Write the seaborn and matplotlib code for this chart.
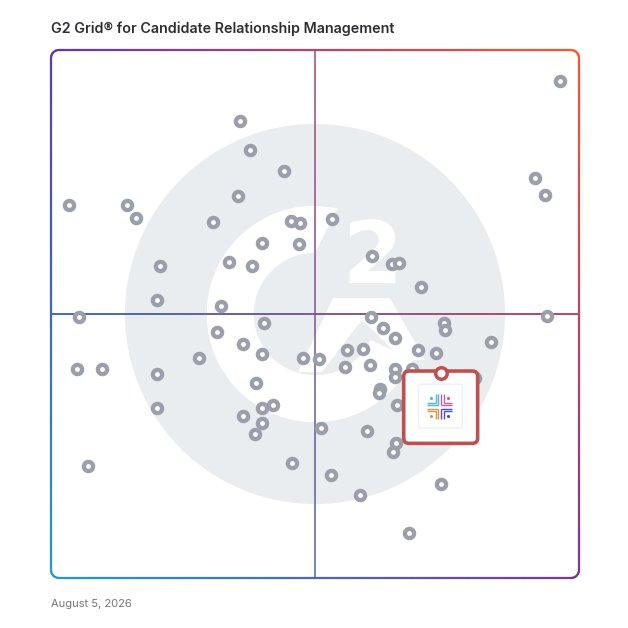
import numpy as np
import pandas as pd
import matplotlib.pyplot as plt
import seaborn as sns
from matplotlib.collections import LineCollection
from matplotlib.patches import Circle, Wedge, Polygon, FancyBboxPatch
from matplotlib.colors import to_rgb

# === Data: satisfaction (x) and market presence (y), 0-100, midlines at 50 ===
satisfaction = [96.4, 35.8, 37.7, 44.1, 91.7, 93.6, 3.4, 14.4, 16.1, 35.4,
                30.7, 45.5, 47.2, 53.2, 40.0, 47.0, 60.8, 64.6, 65.9, 33.7,
                38.1, 20.6, 70.1, 20.1, 32.2, 5.3, 93.9, 40.3, 60.6, 74.4,
                74.6, 62.9, 65.2, 31.4, 83.3, 36.4, 56.1, 59.1, 40.0, 47.7,
                50.8, 28.0, 69.5, 72.9, 55.7, 60.4, 65.2, 68.4, 65.2, 80.3,
                20.1, 38.8, 62.3, 62.1, 20.1, 40.0, 42.0, 65.5, 36.4, 40.0,
                38.6, 51.1, 59.8, 65.3, 64.8, 45.6, 53.0, 73.9, 4.9, 9.7,
                7.0, 58.5, 67.8]
market_presence = [94.1, 86.6, 81.1, 77.1, 75.8, 72.5, 70.6, 70.6, 68.2, 72.3,
                   67.4, 67.6, 67.2, 68.0, 63.4, 63.3, 61.0, 59.5, 59.7, 59.8,
                   59.1, 59.1, 55.1, 52.7, 51.5, 49.4, 49.6, 48.3, 49.4, 48.3,
                   47.0, 47.3, 45.5, 46.6, 44.7, 44.3, 43.2, 43.4, 42.4, 41.7,
                   41.5, 41.7, 43.2, 42.6, 40.0, 40.3, 39.6, 39.6, 38.1, 37.9,
                   38.6, 36.9, 35.8, 35.0, 32.2, 32.2, 32.8, 32.8, 30.7, 29.4,
                   27.3, 28.4, 27.8, 25.6, 23.9, 21.8, 19.5, 17.8, 39.6, 39.6,
                   21.2, 15.7, 8.5]

# highlighted product
product_x = 73.9
product_y = 38.8

TITLE = "G2 Grid\u00ae for Candidate Relationship Management"
DATE_LABEL = "August 5, 2026"

# frame gradient corner colours
C_TL, C_TR = "#5b3aa8", "#ff5530"
C_BL, C_BR = "#1f9ad8", "#7b3596"

MARKER_GRAY = "#9a9fab"
HIGHLIGHT_RED = "#c0504f"
LOGO_GRAY = "#eaedf0"

PX = 100 / 528  # one pixel in data units


def grad_color(x, y):
    u, v = np.clip(x / 100, 0, 1), np.clip(y / 100, 0, 1)
    tl, tr, bl, br = (np.array(to_rgb(c)) for c in (C_TL, C_TR, C_BL, C_BR))
    return (1 - u) * (1 - v) * bl + u * (1 - v) * br + (1 - u) * v * tl + u * v * tr


def gradient_line(ax, pts, lw, alpha=1.0, zorder=2):
    # resample so the colour changes smoothly
    d = np.r_[0, np.cumsum(np.hypot(*np.diff(pts, axis=0).T))]
    s = np.linspace(0, d[-1], 900)
    p = np.column_stack([np.interp(s, d, pts[:, 0]), np.interp(s, d, pts[:, 1])])
    segs = np.stack([p[:-1], p[1:]], axis=1)
    mids = segs.mean(axis=1)
    cols = [(*grad_color(mx, my), alpha) for mx, my in mids]
    lc = LineCollection(segs, colors=cols, linewidths=lw, capstyle="round",
                        zorder=zorder, clip_on=False)
    ax.add_collection(lc)


def rounded_frame(r):
    arcs = [((r, 100 - r), 180, 90), ((100 - r, 100 - r), 90, 0),
            ((100 - r, r), 0, -90), ((r, r), -90, -180)]
    parts = []
    for (cx, cy), a0, a1 in arcs:
        t = np.radians(np.linspace(a0, a1, 15))
        parts.append(np.column_stack([cx + r * np.cos(t), cy + r * np.sin(t)]))
    parts.append(parts[0][:1])
    return np.vstack(parts)


sns.set_theme(style="white")
plt.rcParams["font.family"] = ["Inter", "DejaVu Sans"]

df = pd.DataFrame({"Satisfaction": satisfaction, "Market Presence": market_presence})

fig = plt.figure(figsize=(6.28, 6.28), dpi=100)
ax = fig.add_axes([51 / 628, 50 / 628, 528 / 628, 528 / 628])

# === G2 watermark ===
cx, cy = 50, 50
ax.add_patch(Circle((cx, cy), 36.0, color=LOGO_GRAY, lw=0, zorder=0))
r_out, r_in = 20.5, 11.6
ax.add_patch(Wedge((cx, cy), r_out, 90, 335, width=r_out - r_in,
                   color="white", lw=0, zorder=1))
ax.add_patch(Polygon([(cx, cy + r_out), (cx + 4.3, cy + 20.05), (cx, cy + r_in)],
                     closed=True, color="white", lw=0, zorder=1))
ax.add_patch(Polygon([(53.4, 53.0), (64.2, 53.0), (70.8, 41.3), (66.7, 41.3),
                      (58.9, 48.9), (51.3, 39.0), (46.8, 39.0)],
                     closed=True, color="white", lw=0, zorder=1))
ax.text(60.8, 55.9, "2", color="white", fontsize=62, fontweight="bold",
        family="DejaVu Sans", ha="center", va="baseline", zorder=1)

# === quadrant lines ===
gradient_line(ax, np.array([[50, 0], [50, 100]]), lw=1.1, alpha=0.75, zorder=2)
gradient_line(ax, np.array([[0, 50], [100, 50]]), lw=1.3, alpha=0.95, zorder=2)

# === products ===
sns.scatterplot(data=df, x="Satisfaction", y="Market Presence", ax=ax,
                s=44, color="white", edgecolor=MARKER_GRAY, linewidth=3.1,
                legend=False, zorder=3)
ax.set_xlim(0, 100)
ax.set_ylim(0, 100)
ax.set_aspect("equal")
ax.axis("off")

# === highlighted product card ===
ax.add_patch(FancyBboxPatch((product_x - 7.1, product_y - 13.3), 14.0, 13.7,
                            boxstyle="round,pad=0,rounding_size=1.0",
                            facecolor="white", edgecolor=HIGHLIGHT_RED,
                            lw=2.6, zorder=4))
ax.add_patch(FancyBboxPatch((product_x - 4.3, product_y - 10.4), 8.3, 8.3,
                            boxstyle="round,pad=0,rounding_size=0.4",
                            facecolor="white", edgecolor="#f0f0f4",
                            lw=1.0, zorder=4))

# product logo: four nested corner brackets with a dot in each quadrant
ix, iy = product_x - 0.3, product_y - 6.4
quads = [(-1, 1, "#4fb3d9"), (1, 1, "#c260a6"), (-1, -1, "#dd9240"), (1, -1, "#4c4fc4")]
for sx, sy, col in quads:
    for off in (1.6, 4.0):
        o, end = off * PX, 12.5 * PX
        ax.plot([ix + sx * o, ix + sx * o], [iy + sy * o, iy + sy * end],
                color=col, lw=1.0, solid_capstyle="butt", zorder=5)
        ax.plot([ix + sx * o, ix + sx * end], [iy + sy * o, iy + sy * o],
                color=col, lw=1.0, solid_capstyle="butt", zorder=5)
    ax.plot(ix + sx * 8.3 * PX, iy + sy * 8.8 * PX, "o", color=col, ms=2.3,
            mew=0, zorder=5)

ax.scatter([product_x], [product_y], s=69, facecolor="white",
           edgecolor=HIGHLIGHT_RED, linewidth=2.5, zorder=6)

# === gradient frame ===
gradient_line(ax, rounded_frame(1.5), lw=1.6, zorder=7)

fig.text(51 / 628, 1 - 29 / 628, TITLE, fontsize=10.3, fontweight="semibold",
         color="#2d2d33", ha="left", va="center")
fig.text(51 / 628, 1 - 604 / 628, DATE_LABEL, fontsize=8, color="#757575",
         ha="left", va="center")

fig.savefig("out.png", dpi=100)
plt.close(fig)
